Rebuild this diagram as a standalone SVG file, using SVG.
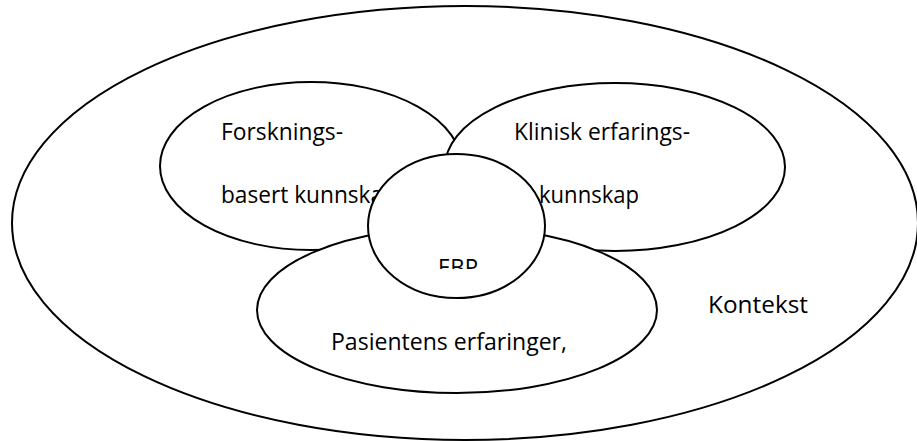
<svg xmlns="http://www.w3.org/2000/svg" width="917" height="441" viewBox="0 0 917 441">
<style>
.sh{fill:#fff;stroke:#000;stroke-width:2}
.t{font-family:"Open Sans","Liberation Sans",sans-serif;font-size:23px;fill:#000}
</style>
<defs>
<clipPath id="ebpclip"><rect x="380" y="200" width="160" height="69"/></clipPath>
</defs>
<rect width="917" height="441" fill="#fff"/>
<g id="kontekst">
<ellipse class="sh" cx="465" cy="223" rx="453" ry="217"/>
<text class="t" x="708" y="313" textLength="100" lengthAdjust="spacingAndGlyphs">Kontekst</text>
</g>
<g id="forskning">
<ellipse class="sh" cx="311" cy="166" rx="151" ry="84"/>
</g>
<g id="klinisk">
<ellipse class="sh" cx="615" cy="167" rx="170" ry="84"/>
</g>
<g id="pasient">
<ellipse class="sh" cx="457" cy="310" rx="200" ry="83"/>
</g>
<g id="forskning-label">
<text class="t" x="221" y="140" textLength="122" lengthAdjust="spacingAndGlyphs">Forsknings-</text>
<text class="t" x="221" y="203" textLength="176" lengthAdjust="spacingAndGlyphs">basert kunnskap</text>
</g>
<g id="ebp">
<ellipse class="sh" cx="456.5" cy="226" rx="88.5" ry="72"/>
<text class="t" x="458" y="276" text-anchor="middle" clip-path="url(#ebpclip)" textLength="40" lengthAdjust="spacingAndGlyphs">EBP</text>
</g>
<g id="klinisk-label">
<text class="t" x="514" y="140" textLength="176" lengthAdjust="spacingAndGlyphs">Klinisk erfarings-</text>
<text class="t" x="539" y="203" textLength="100" lengthAdjust="spacingAndGlyphs">kunnskap</text>
</g>
<g id="pasient-label">
<text class="t" x="331" y="350" textLength="236" lengthAdjust="spacingAndGlyphs">Pasientens erfaringer,</text>
</g>
</svg>
